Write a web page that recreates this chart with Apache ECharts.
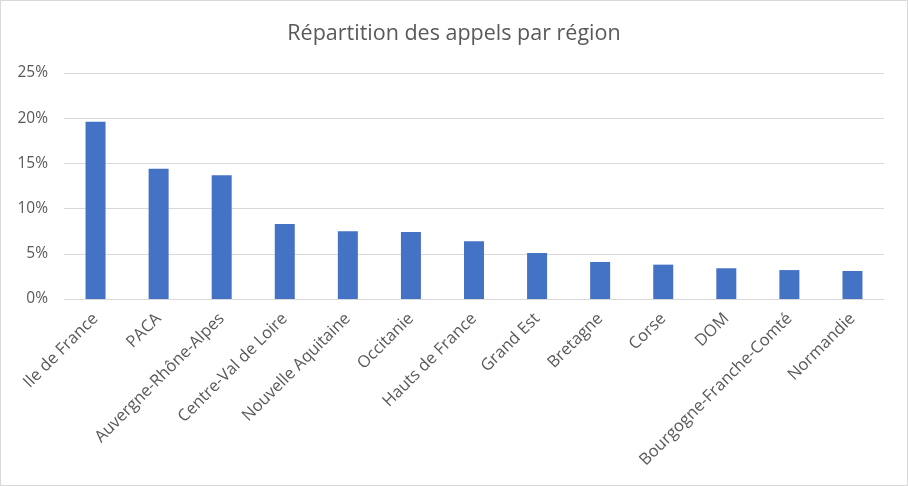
<!DOCTYPE html>
<html><head><meta charset="utf-8">
<script src="https://cdn.jsdelivr.net/npm/echarts@6/dist/echarts.min.js"></script>
<style>
html,body{margin:0;padding:0;background:#fff;}
#c{position:absolute;left:0;top:0;width:906px;height:484px;border:1px solid #d9d9d9;}
</style></head>
<body><div id="c"></div>
<script>
const categories = ["Ile de France","PACA","Auvergne-Rhône-Alpes","Centre-Val de Loire","Nouvelle Aquitaine","Occitanie","Hauts de France","Grand Est","Bretagne","Corse","DOM","Bourgogne-Franche-Comté","Normandie"];
const values = [19.6,14.4,13.7,8.3,7.5,7.4,6.4,5.1,4.1,3.8,3.4,3.2,3.1];
const yTicks = [0,5,10,15,20,25];
const title = "Répartition des appels par région";

const chart = echarts.init(document.getElementById('c'));
chart.setOption({
  animation:false,
  title:{text:title,left:'center',top:17,textStyle:{fontFamily:'Open Sans',fontWeight:'normal',fontSize:21.5,color:'#595959'}},
  grid:{left:63,right:23,top:72,height:226,containLabel:false},
  xAxis:{type:'category',data:categories,
    axisLine:{show:false},axisTick:{show:false},
    axisLabel:{rotate:45,interval:0,margin:17,fontFamily:'Open Sans',fontSize:16.5,color:'#595959'}},
  yAxis:{type:'value',min:yTicks[0],max:yTicks[yTicks.length-1],interval:5,
    axisLine:{show:false},axisTick:{show:false},
    splitLine:{lineStyle:{color:'#d9d9d9',width:1}},
    axisLabel:{formatter:'{value}%',margin:16,fontFamily:'Open Sans',fontSize:15.5,color:'#595959'}},
  series:[{type:'bar',data:values,barWidth:20,itemStyle:{color:'#4472c4'}}]
});
</script></body></html>
